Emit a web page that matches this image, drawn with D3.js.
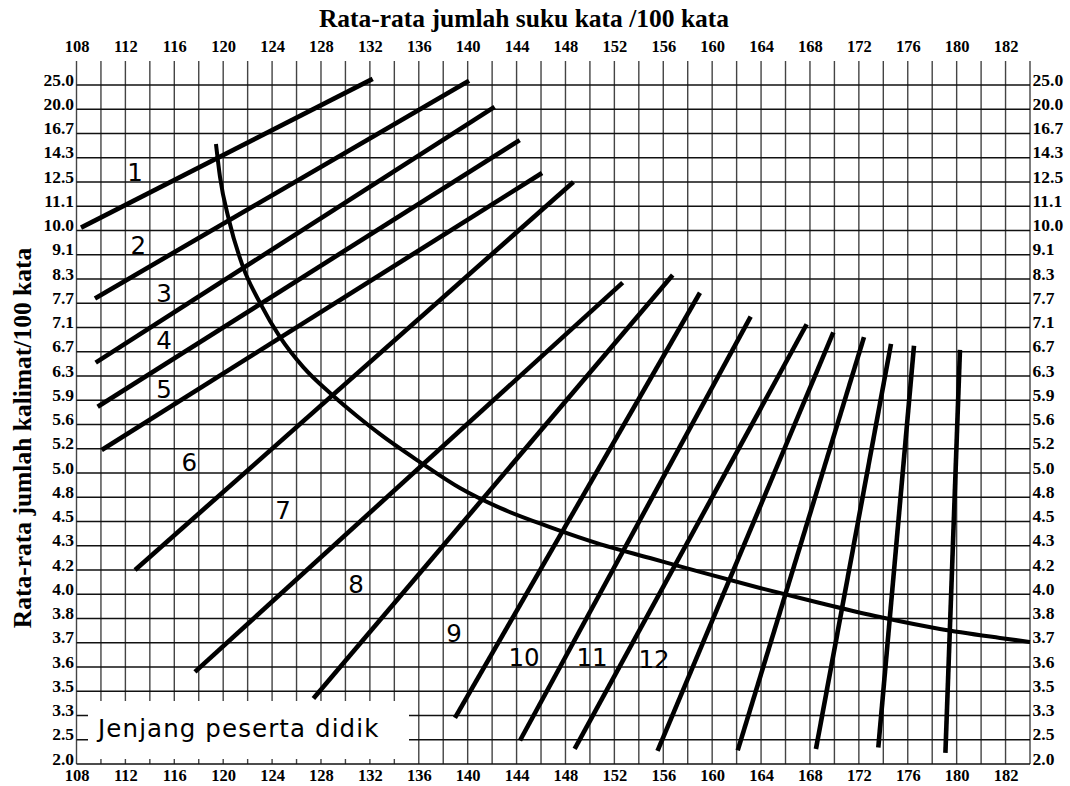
<!DOCTYPE html>
<html>
<head>
<meta charset="utf-8">
<script src="https://cdn.jsdelivr.net/npm/d3@7/dist/d3.min.js"></script>
<style>
  html, body { margin: 0; padding: 0; background: #fff; }
  svg { display: block; }
</style>
</head>
<body>
<svg id="chart" width="1070" height="786"></svg>
<script>
// ---------------- DATA ----------------
const titleTop = "Rata-rata jumlah suku kata /100 kata";
const titleLeft = "Rata-rata jumlah kalimat/100 kata";
const boxLabel = "Jenjang peserta didik";

// x: syllables per 100 words (grid every 2 syllables)
const xDomain = [108, 186];
const xTickValues = [108,112,116,120,124,128,132,136,140,144,148,152,156,160,164,168,172,176,180,184];
const xTickLabels = ["108","112","116","120","124","128","132","136","140","144","148","152","156","160","164","168","172","176","180","182"];

// y: sentences per 100 words (one grid row per label)
const yTickValues = [25.0,20.0,16.7,14.3,12.5,11.1,10.0,9.1,8.3,7.7,7.1,6.7,6.3,5.9,5.6,5.2,5.0,4.8,4.5,4.3,4.2,4.0,3.8,3.7,3.6,3.5,3.3,2.5,2.0];
const yTickLabels = ["25.0","20.0","16.7","14.3","12.5","11.1","10.0","9.1","8.3","7.7","7.1","6.7","6.3","5.9","5.6","5.2","5.0","4.8","4.5","4.3","4.2","4.0","3.8","3.7","3.6","3.5","3.3","2.5","2.0"];

// grade-level lines: [syllables, sentences] start and end
const gradeLineStart = [
  [108.37,10.13],[109.51,7.82],[109.57,6.52],[109.73,5.82],[110.06,5.19],[112.79,4.20],
  [117.69,3.58],[127.38,3.44],[138.96,3.22],[144.28,2.485],[148.75,2.31],[155.53,2.27],
  [162.09,2.28],[168.49,2.31],[173.59,2.34],[179.08,2.23]
];
const gradeLineEnd = [
  [132.23,26.26],[140.11,25.89],[142.20,20.50],[144.25,16.04],[146.08,13.17],[148.65,12.50],
  [152.68,8.21],[156.77,8.43],[159.00,7.96],[163.15,7.37],[167.73,7.18],[169.91,7.02],
  [172.42,6.94],[174.63,6.83],[176.51,6.80],[180.27,6.73]
];

// grade-level numbers and their positions
const gradeNames = ["1","2","3","4","5","6","7","8","9","10","11","12"];
const gradeNameX = [112.79,113.06,115.16,115.16,115.16,117.23,124.89,130.86,138.88,144.61,150.17,155.24];
const gradeNameY = [13.24,9.46,7.95,6.88,6.07,5.09,4.64,4.08,3.74,3.64,3.64,3.63];

// boundary curve
const curveX = [119.41,119.74,120.47,121.62,123.01,124.65,126.53,128.90,130.94,132.83,136.10,139.37,142.64,146.73,150.82,154.91,159.00,163.91,168.82,173.72,178.63,183.54,186.0];
const curveY = [15.66,12.87,10.48,8.70,7.71,6.94,6.45,5.99,5.705,5.44,5.09,4.876,4.668,4.454,4.314,4.2495,4.184,4.052,3.928,3.812,3.757,3.72,3.703];

// ---------------- LAYOUT ----------------
const L = 76.5, R = 1030, rowTop = 85, rowStep = 24.25, gridTop = 61;
const bottom = rowTop + rowStep * (yTickValues.length - 1);

const svg = d3.select("#chart");
const x = d3.scaleLinear().domain(xDomain).range([L, R]);
const y = d3.scaleLinear().domain(yTickValues).range(yTickValues.map((d, i) => rowTop + i * rowStep));

const serif = "'Liberation Serif','Times New Roman',Times,serif";
const sans = "'DejaVu Sans',sans-serif";

// grid
const grid = svg.append("g");
grid.selectAll("line.v").data(d3.range(xDomain[0], xDomain[1] + 1, 2)).join("line")
  .attr("x1", d => x(d)).attr("x2", d => x(d))
  .attr("y1", gridTop).attr("y2", bottom)
  .attr("stroke", "#444").attr("stroke-width", 1.4);
grid.selectAll("line.h").data(yTickValues).join("line")
  .attr("x1", L).attr("x2", R)
  .attr("y1", d => y(d)).attr("y2", d => y(d))
  .attr("stroke", "#111").attr("stroke-width", 1.4);

// axes (labels only)
function styleAxis(size) {
  return g => {
    g.select(".domain").remove();
    g.selectAll(".tick line").remove();
    g.selectAll("text").attr("font-family", serif).attr("font-weight", "bold")
      .attr("font-size", size).attr("fill", "#000");
  };
}
svg.append("g").attr("transform", `translate(0,${gridTop})`)
  .call(d3.axisTop(x).tickValues(xTickValues).tickFormat((d, i) => xTickLabels[i]).tickSize(0).tickPadding(9))
  .call(styleAxis(16.5));
svg.append("g").attr("transform", `translate(0,${bottom})`)
  .call(d3.axisBottom(x).tickValues(xTickValues).tickFormat((d, i) => xTickLabels[i]).tickSize(0).tickPadding(5.5))
  .call(styleAxis(16.5));
const yl = svg.append("g").attr("transform", `translate(${L},0)`)
  .call(d3.axisLeft(y).tickValues(yTickValues).tickFormat((d, i) => yTickLabels[i]).tickSize(0).tickPadding(2.5))
  .call(styleAxis(17.5));
yl.selectAll("text").attr("dy", "0");
const yr = svg.append("g").attr("transform", `translate(${R},0)`)
  .call(d3.axisRight(y).tickValues(yTickValues).tickFormat((d, i) => yTickLabels[i]).tickSize(0).tickPadding(2.5))
  .call(styleAxis(17.5));
yr.selectAll("text").attr("dy", "0");

// legend box (covers grid)
svg.append("rect").attr("x", 88).attr("y", 701).attr("width", 321).attr("height", 58).attr("fill", "#fff");
svg.append("text").attr("x", 98).attr("y", 737)
  .attr("font-family", sans).attr("font-size", 24.5).attr("letter-spacing", 1.1)
  .attr("fill", "#000").text(boxLabel);

// grade lines
svg.append("g").selectAll("line").data(gradeLineStart).join("line")
  .attr("x1", d => x(d[0])).attr("y1", d => y(d[1]))
  .attr("x2", (d, i) => x(gradeLineEnd[i][0])).attr("y2", (d, i) => y(gradeLineEnd[i][1]))
  .attr("stroke", "#000").attr("stroke-width", 4.6);

// curve
const curvePts = curveX.map((d, i) => [d, curveY[i]]);
svg.append("path").datum(curvePts)
  .attr("d", d3.line().x(d => x(d[0])).y(d => y(d[1])).curve(d3.curveMonotoneX))
  .attr("fill", "none").attr("stroke", "#000").attr("stroke-width", 4);

// grade numbers
svg.append("g").selectAll("text").data(gradeNames).join("text")
  .attr("x", (d, i) => x(gradeNameX[i])).attr("y", (d, i) => y(gradeNameY[i]))
  .attr("text-anchor", "middle").attr("dominant-baseline", "central")
  .attr("font-family", sans).attr("font-size", 24.5).attr("fill", "#000")
  .text(d => d);

// titles
svg.append("text").attr("x", 524).attr("y", 27).attr("text-anchor", "middle")
  .attr("font-family", serif).attr("font-weight", "bold").attr("font-size", 25.5)
  .text(titleTop);
svg.append("text").attr("transform", "translate(31,438) rotate(-90)").attr("text-anchor", "middle")
  .attr("font-family", serif).attr("font-weight", "bold").attr("font-size", 25.5)
  .text(titleLeft);
</script>
</body>
</html>
